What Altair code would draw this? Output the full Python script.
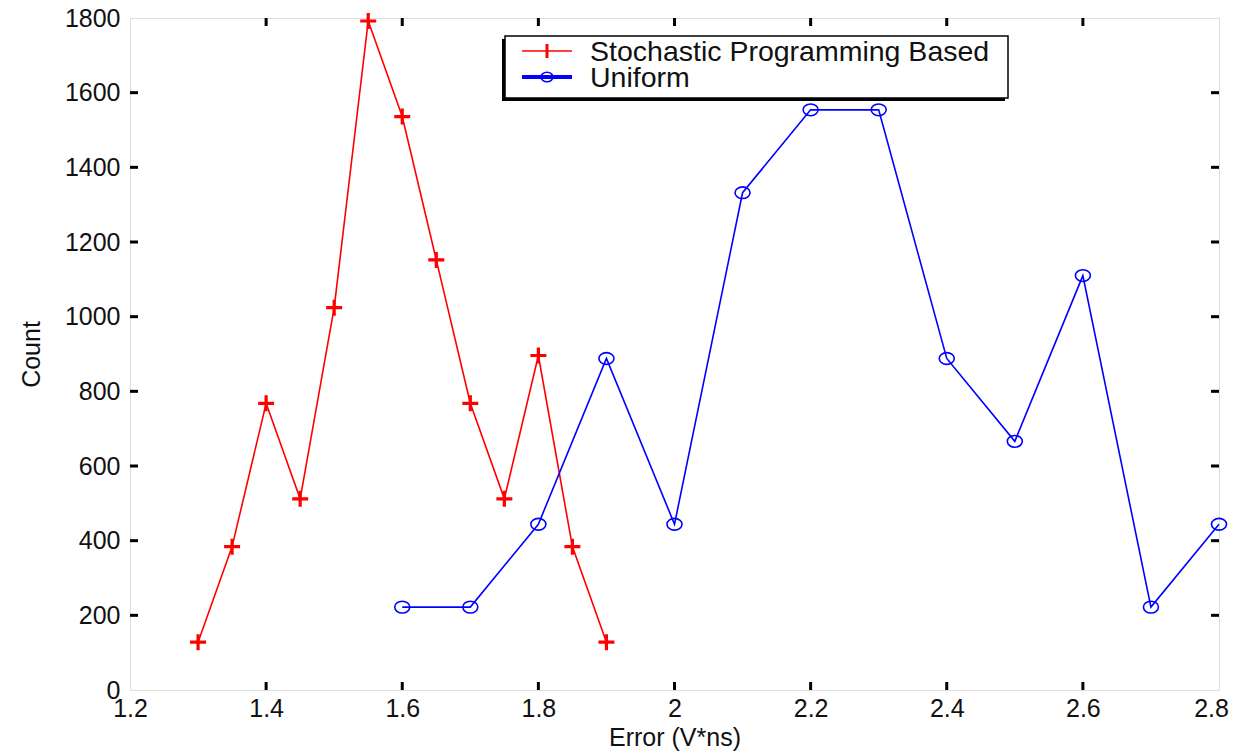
import altair as alt
import pandas as pd

# ---- data ----
sp_x = [1.30, 1.35, 1.40, 1.45, 1.50, 1.55, 1.60, 1.65, 1.70, 1.75, 1.80, 1.85, 1.90]
sp_y = [128, 384, 768, 512, 1024, 1792, 1536, 1152, 768, 512, 896, 384, 128]
un_x = [1.6, 1.7, 1.8, 1.9, 2.0, 2.1, 2.2, 2.3, 2.4, 2.5, 2.6, 2.7, 2.8]
un_y = [222, 222, 444, 888, 444, 1332, 1554, 1554, 888, 666, 1110, 222, 444]
series_names = ["Stochastic Programming Based", "Uniform"]
series_colors = ["#ff0000", "#0000ff"]
x_ticks = [1.2, 1.4, 1.6, 1.8, 2.0, 2.2, 2.4, 2.6, 2.8]
y_ticks = [0, 200, 400, 600, 800, 1000, 1200, 1400, 1600, 1800]

W, H = 1089, 672
FONT = "Liberation Sans"

sp = pd.DataFrame({"x": sp_x, "y": sp_y})
un = pd.DataFrame({"x": un_x, "y": un_y})

xs = alt.Scale(domain=[1.2, 2.8], nice=False, zero=False)
ys = alt.Scale(domain=[0, 1800], nice=False)

X = alt.X("x:Q", scale=xs, axis=alt.Axis(
    values=x_ticks, format="~g", title="Error (V*ns)", ticks=False, domain=False,
    grid=False, labelFontSize=25, labelFont=FONT, labelColor="#111",
    labelPadding=6, labelFlush=False, labelOverlap=False, labelBound=False,
    labelOffset={"expr": "datum.value >= 2.79 ? -8 : 0"},
    titleFont=FONT, titleFontSize=25, titleFontWeight="normal", titlePadding=4,
    titleColor="#111"))
Y = alt.Y("y:Q", scale=ys, axis=alt.Axis(
    values=y_ticks, format="d", title="Count", ticks=False, domain=False,
    grid=False, labelFontSize=25, labelFont=FONT, labelColor="#111",
    labelPadding=10, labelFlush=False, labelOverlap=False, labelBound=False,
    titleFont=FONT, titleFontSize=25, titleFontWeight="normal", titlePadding=20,
    titleColor="#111"))

plus_path = "M-1,0H1M0,-1V1"
ring_path = "M-1,0A1,0.78 0 1,0 1,0A1,0.78 0 1,0 -1,0"

sp_line = alt.Chart(sp).mark_line(color=series_colors[0], strokeWidth=1.6).encode(x=X, y=Y)
sp_pts = alt.Chart(sp).mark_point(shape=plus_path, filled=False, color=series_colors[0],
                                  strokeWidth=3.2, size=256, opacity=1).encode(x="x:Q", y="y:Q")
un_line = alt.Chart(un).mark_line(color=series_colors[1], strokeWidth=1.6).encode(x="x:Q", y="y:Q")
un_pts = alt.Chart(un).mark_point(shape=ring_path, filled=False, color=series_colors[1],
                                  strokeWidth=1.6, size=225, opacity=1).encode(x="x:Q", y="y:Q")

# inward ticks
xt = pd.DataFrame({"v": x_ticks[1:-1]})
yt = pd.DataFrame({"v": y_ticks[1:-1]})
tick_layers = [
    alt.Chart(xt).mark_rule(color="black", strokeWidth=3).encode(
        x=alt.X("v:Q", scale=xs), y=alt.value(H), y2=alt.value(H - 8)),
    alt.Chart(xt).mark_rule(color="black", strokeWidth=3).encode(
        x=alt.X("v:Q", scale=xs), y=alt.value(0), y2=alt.value(8)),
    alt.Chart(yt).mark_rule(color="black", strokeWidth=3).encode(
        y=alt.Y("v:Q", scale=ys), x=alt.value(0), x2=alt.value(8)),
    alt.Chart(yt).mark_rule(color="black", strokeWidth=3).encode(
        y=alt.Y("v:Q", scale=ys), x=alt.value(W), x2=alt.value(W - 8)),
]

# legend (drawn manually)
one = pd.DataFrame({"a": [0]})
lx0, lx1, ly0, ly1 = 375, 878, 18, 80
legend_layers = [
    alt.Chart(one).mark_rect(fill="black").encode(
        x=alt.value(lx0 - 3), x2=alt.value(lx1 - 3), y=alt.value(ly0 + 3), y2=alt.value(ly1 + 3)),
    alt.Chart(one).mark_rect(fill="white", stroke="black", strokeWidth=1.5).encode(
        x=alt.value(lx0), x2=alt.value(lx1), y=alt.value(ly0), y2=alt.value(ly1)),
]
row_y = [33, 59]
for i, (name, col) in enumerate(zip(series_names, series_colors)):
    legend_layers.append(alt.Chart(one).mark_rule(color=col, strokeWidth=1.6 if i == 0 else 4).encode(
        x=alt.value(392), x2=alt.value(442), y=alt.value(row_y[i])))
    if i == 0:
        legend_layers.append(alt.Chart(one).mark_rule(color=col, strokeWidth=3).encode(
            x=alt.value(417), y=alt.value(row_y[i] - 7), y2=alt.value(row_y[i] + 7)))
    else:
        legend_layers.append(alt.Chart(one).mark_point(shape=ring_path, filled=False, color=col,
                                                       strokeWidth=1.6, size=144, opacity=1).encode(
            x=alt.value(417), y=alt.value(row_y[i])))
    legend_layers.append(alt.Chart(one).mark_text(
        text=name, align="left", baseline="middle", font=FONT, fontSize=28.5, color="#111").encode(
        x=alt.value(460), y=alt.value(row_y[i] + 1)))

chart = alt.layer(sp_line, un_line, sp_pts, un_pts, *tick_layers, *legend_layers).properties(
    width=W, height=H,
    autosize=alt.AutoSizeParams(type="none"),
    padding={"left": 122, "top": 10, "right": 12, "bottom": 61},
).configure_view(stroke="black", strokeWidth=3).configure(background="white")

chart.save("out.html", embed_options={"renderer": "svg", "actions": False})
